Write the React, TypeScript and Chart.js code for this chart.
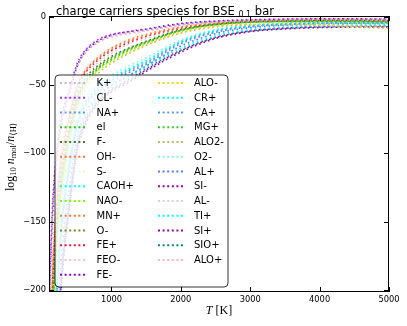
import React, { useEffect, useRef } from "react";
import { Chart, registerables } from "chart.js";

Chart.register(...registerables);

// Temperature grid [K]
const temperatures = [100, 150, 200, 250, 300, 400, 500, 600, 800, 1000, 1250, 1500, 2000, 2500, 3000, 3500, 4000, 4500, 5000];

const species = [
  "K+", "CL-", "NA+", "el", "F-", "OH-", "S-", "CAOH+", "NAO-", "MN+", "O-", "FE+", "FEO-", "FE-",
  "ALO-", "CR+", "CA+", "MG+", "ALO2-", "O2-", "AL+", "SI-", "AL-", "TI+", "SI+", "SIO+", "ALO+",
];

const colors = [
  "#bdbdbd", "#9b30ff", "#6495ed", "#22cc22", "#556b2f", "#ff6f3c", "#f3f0dc", "#00ffff", "#7cfc00", "#f07830",
  "#6b8e23", "#e8143c", "#ffc0cb", "#9400d3",
  "#ffd700", "#00ffff", "#6495ed", "#32cd32", "#bdb76b", "#7fffd4", "#4f7fff", "#9900aa", "#d3d3d3", "#00ffff",
  "#990099", "#008b8b", "#ffb6c1",
];

// log10 n_mol / n_<H> for each species, at the temperatures above
const K_plus = [-216, -144, -108, -86, -72, -54, -38, -28, -19, -14.5, -12, -10, -6, -3.8, -2.6, -2.1, -2, -2, -2.2];
const CL_minus = [-208, -139, -104, -83, -69, -52, -35, -26, -17, -13, -11, -9.5, -5.5, -3.5, -2.5, -2, -1.8, -1.8, -2];
const NA_plus = [-432, -288, -216, -173, -144, -108, -80, -66, -54, -47, -40, -34, -19, -11, -7, -5.5, -4.8, -4.6, -4.6];
const el = [-340, -227, -170, -136, -113, -85, -62, -50, -38, -31, -24, -19, -10, -5.5, -3.8, -3.2, -3, -3.2, -3.6];
const F_minus = [-320, -213, -160, -128, -107, -80, -59, -47, -36, -29, -23, -18, -9.5, -5.5, -3.8, -3.3, -3, -3, -3.2];
const OH_minus = [-288, -192, -144, -115, -96, -72, -52, -42, -31, -24, -18, -14, -8, -5, -3.5, -2.8, -2.5, -2.5, -2.7];
const S_minus = [-264, -176, -132, -106, -88, -66, -48, -39, -29, -22, -16.5, -12.5, -7.5, -4.6, -3.3, -2.7, -2.4, -2.4, -2.6];
const CAOH_plus = [-424, -283, -212, -170, -141, -106, -79, -65, -53, -46, -39, -33, -18.5, -10.5, -7, -5.5, -5, -5, -5.2];
const NAO_minus = [-352, -235, -176, -141, -117, -88, -64, -52, -39, -32, -25, -19.5, -10.5, -6, -4.2, -3.8, -3.8, -4.2, -5];
const MN_plus = [-280, -187, -140, -112, -93, -70, -51, -41, -30, -23, -17, -13, -7.5, -4.8, -3.4, -2.8, -2.5, -2.5, -2.8];
const O_minus = [-332, -221, -166, -133, -111, -83, -61, -49, -37, -30, -23.5, -18.5, -10, -5.8, -4, -3.5, -3.4, -3.6, -4];
const FE_plus = [-296, -197, -148, -118, -99, -74, -54, -43, -32, -25, -19, -14.5, -8.5, -5.2, -3.6, -3, -2.7, -2.7, -3];
const FEO_minus = [-212, -141, -106, -85, -71, -53, -37, -28, -19, -15, -12.5, -10.5, -6.5, -4, -2.8, -2.3, -2, -2, -2.2];
const FE_minus = [-220, -147, -110, -88, -73, -55, -37, -27, -18, -13.5, -11, -9, -5, -3.2, -2.3, -1.8, -1.6, -1.6, -1.8];
const ALO_minus = [-360, -240, -180, -144, -120, -90, -66, -53, -40, -33, -26, -20.5, -11.5, -7, -5.5, -5.5, -6, -7, -8];
const CR_plus = [-420, -280, -210, -168, -140, -105, -78, -64, -52, -45, -38, -32, -18, -10, -6.5, -5, -4.5, -4.4, -4.5];
const CA_plus = [-440, -293, -220, -176, -147, -110, -82, -68, -55, -48, -41, -35, -20, -11.5, -7.5, -5.8, -5, -4.8, -4.8];
const MG_plus = [-344, -229, -172, -138, -115, -86, -63, -51, -38.5, -31.5, -24.5, -19, -10, -5.8, -4, -3.5, -3.3, -3.4, -3.8];
const ALO2_minus = [-372, -248, -186, -149, -124, -93, -68, -55, -42, -34, -27, -21, -12, -7.5, -6, -6, -6.5, -7.5, -8.5];
const O2_minus = [-408, -272, -204, -163, -136, -102, -76, -62, -50, -43, -36, -30, -17, -9.5, -6, -4.8, -4.3, -4.2, -4.3];
const AL_plus = [-488, -325, -244, -195, -163, -122, -90, -73, -58, -50, -43, -36, -21.5, -12.5, -8, -6.3, -5.5, -5.2, -5.2];
const SI_minus = [-540, -360, -270, -216, -180, -135, -98, -80, -63, -54, -47, -39, -25, -15.5, -10.5, -8.5, -7.5, -7.2, -7.2];
const AL_minus = [-308, -205, -154, -123, -103, -77, -56, -45, -34, -27, -20, -16, -9.5, -6, -4, -3.2, -2.8, -2.8, -3];
const TI_plus = [-520, -347, -260, -208, -173, -130, -94, -76, -60, -51, -44, -36.5, -23, -14, -9.5, -7.8, -7, -6.6, -6.5];
const SI_plus = [-552, -368, -276, -221, -184, -138, -100, -82, -64, -55, -48, -40, -26, -16, -11, -9, -8, -7.6, -7.6];
const SIO_plus = [-528, -352, -264, -211, -176, -132, -96, -78, -62, -53, -46, -38, -24.5, -15, -10.5, -8.5, -7.5, -7, -6.8];
const ALO_plus = [-216, -144, -108, -86, -72, -54, -37, -28, -19, -14, -11.5, -10, -6, -3.8, -2.8, -2.4, -2.2, -2.2, -2.4];

const seriesValues = [
  K_plus, CL_minus, NA_plus, el, F_minus, OH_minus, S_minus, CAOH_plus, NAO_minus, MN_plus, O_minus, FE_plus,
  FEO_minus, FE_minus, ALO_minus, CR_plus, CA_plus, MG_plus, ALO2_minus, O2_minus, AL_plus, SI_minus, AL_minus,
  TI_plus, SI_plus, SIO_plus, ALO_plus,
];

const xTicks = [1000, 2000, 3000, 4000, 5000];
const yTicks = [0, -50, -100, -150, -200];

const SANS = '"DejaVu Sans"';
const SERIF = '"Liberation Serif", "DejaVu Serif", serif';
const DASH = [1.6, 3];
const LINE_W = 1.6;

const decorPlugin = {
  id: "decor",
  afterDraw(chart: any) {
    const { ctx, chartArea: a, scales } = chart;
    ctx.save();
    // frame
    ctx.strokeStyle = "#000";
    ctx.lineWidth = 1;
    ctx.setLineDash([]);
    ctx.strokeRect(a.left + 0.5, a.top + 0.5, a.right - a.left - 1, a.bottom - a.top - 1);
    // inward ticks
    const tl = 5;
    ctx.beginPath();
    for (const v of xTicks) {
      const px = Math.round(scales.x.getPixelForValue(v)) + 0.5;
      ctx.moveTo(px, a.bottom);
      ctx.lineTo(px, a.bottom - tl);
      ctx.moveTo(px, a.top);
      ctx.lineTo(px, a.top + tl);
    }
    for (const v of yTicks) {
      const py = Math.round(scales.y.getPixelForValue(v)) + 0.5;
      ctx.moveTo(a.left, py);
      ctx.lineTo(a.left + tl, py);
      ctx.moveTo(a.right, py);
      ctx.lineTo(a.right - tl, py);
    }
    ctx.stroke();

    // legend
    const lx = 55, ly = 75, lw = 173, lh = 212, r = 4;
    ctx.beginPath();
    ctx.moveTo(lx + r, ly);
    ctx.lineTo(lx + lw - r, ly);
    ctx.quadraticCurveTo(lx + lw, ly, lx + lw, ly + r);
    ctx.lineTo(lx + lw, ly + lh - r);
    ctx.quadraticCurveTo(lx + lw, ly + lh, lx + lw - r, ly + lh);
    ctx.lineTo(lx + r, ly + lh);
    ctx.quadraticCurveTo(lx, ly + lh, lx, ly + lh - r);
    ctx.lineTo(lx, ly + r);
    ctx.quadraticCurveTo(lx, ly, lx + r, ly);
    ctx.closePath();
    ctx.fillStyle = "rgba(255,255,255,0.8)";
    ctx.fill();
    ctx.strokeStyle = "rgba(0,0,0,0.8)";
    ctx.lineWidth = 1;
    ctx.stroke();

    ctx.font = `10px ${SANS}`;
    ctx.textBaseline = "middle";
    ctx.textAlign = "left";
    species.forEach((name, i) => {
      const col = i < 14 ? 0 : 1;
      const row = col === 0 ? i : i - 14;
      const y = 83 + row * 14.75;
      const x1 = col === 0 ? 60 : 158;
      const tx = col === 0 ? 96.5 : 194;
      ctx.strokeStyle = colors[i];
      ctx.lineWidth = 2;
      ctx.setLineDash([2, 2.6]);
      ctx.beginPath();
      ctx.moveTo(x1, y);
      ctx.lineTo(x1 + 25, y);
      ctx.stroke();
      ctx.setLineDash([]);
      ctx.fillStyle = "#000";
      ctx.fillText(name, tx, y + 0.5);
    });

    // title
    ctx.textBaseline = "alphabetic";
    ctx.fillStyle = "#000";
    let x = 56;
    ctx.font = `11.5px ${SANS}`;
    const t1 = "charge carriers species for BSE ";
    ctx.fillText(t1, x, 15);
    x += ctx.measureText(t1).width;
    ctx.font = `8px ${SANS}`;
    ctx.fillText("0.1", x, 16.5);
    x += ctx.measureText("0.1").width;
    ctx.font = `11.5px ${SANS}`;
    ctx.fillText(" bar", x, 15);

    // x label
    const xl = [
      { t: "T", f: `italic 12px ${SERIF}` },
      { t: " [K]", f: `12px ${SERIF}` },
    ];
    let wsum = 0;
    for (const p of xl) { ctx.font = p.f; wsum += ctx.measureText(p.t).width; }
    x = 219 - wsum / 2;
    for (const p of xl) { ctx.font = p.f; ctx.fillText(p.t, x, 314); x += ctx.measureText(p.t).width; }

    // y label
    const yl = [
      { t: "log", f: `12px ${SERIF}`, dy: 0 },
      { t: "10", f: `8.5px ${SERIF}`, dy: 2.5 },
      { t: " ", f: `12px ${SERIF}`, dy: 0 },
      { t: "n", f: `italic 12px ${SERIF}`, dy: 0 },
      { t: "mol", f: `8.5px ${SERIF}`, dy: 2.5 },
      { t: "/", f: `12px ${SERIF}`, dy: 0 },
      { t: "n", f: `italic 12px ${SERIF}`, dy: 0 },
      { t: "⟨H⟩", f: `8.5px ${SERIF}`, dy: 2.5 },
    ];
    wsum = 0;
    for (const p of yl) { ctx.font = p.f; wsum += ctx.measureText(p.t).width; }
    ctx.translate(10, 157);
    ctx.rotate(-Math.PI / 2);
    x = -wsum / 2;
    for (const p of yl) { ctx.font = p.f; ctx.fillText(p.t, x, 3.5 + p.dy); x += ctx.measureText(p.t).width; }
    ctx.restore();
  },
};

export default function App() {
  const ref = useRef<HTMLCanvasElement | null>(null);
  useEffect(() => {
    document.body.style.margin = "0";
    const canvas = ref.current;
    if (!canvas) return;
    const datasets = species.map((name, i) => ({
      label: name,
      data: temperatures.map((t, j) => ({ x: t, y: seriesValues[i][j] })),
      borderColor: colors[i],
      backgroundColor: colors[i],
      borderWidth: LINE_W,
      borderDash: DASH,
      pointRadius: 0,
      fill: false,
      cubicInterpolationMode: "monotone" as const,
    }));
    const chart = new Chart(canvas, {
      type: "line",
      data: { datasets },
      plugins: [decorPlugin],
      options: {
        animation: false,
        responsive: false,
        maintainAspectRatio: false,
        layout: { padding: { top: 16, right: 18, left: 0, bottom: 0 } },
        plugins: { legend: { display: false }, tooltip: { enabled: false }, title: { display: false } },
        scales: {
          x: {
            type: "linear",
            min: 100,
            max: 5000,
            afterBuildTicks: (s: any) => { s.ticks = xTicks.map((v) => ({ value: v })); },
            afterFit: (s: any) => { s.height = 34; },
            grid: { display: false, drawTicks: false },
            border: { display: false },
            ticks: { color: "#000", font: { family: "DejaVu Sans", size: 8.3 }, padding: 3, maxRotation: 0, callback: (v: any) => String(v) },
          },
          y: {
            type: "linear",
            min: -201.5,
            max: 0.5,
            afterBuildTicks: (s: any) => { s.ticks = yTicks.map((v) => ({ value: v })); },
            afterFit: (s: any) => { s.width = 49; },
            grid: { display: false, drawTicks: false },
            border: { display: false },
            ticks: { color: "#000", font: { family: "DejaVu Sans", size: 8.3 }, padding: 3, callback: (v: any) => String(v).replace("-", "\u2212") },
          },
        },
      },
    });
    return () => chart.destroy();
  }, []);
  return <canvas ref={ref} width={407} height={326} style={{ display: "block", width: 407, height: 326 }} />;
}
